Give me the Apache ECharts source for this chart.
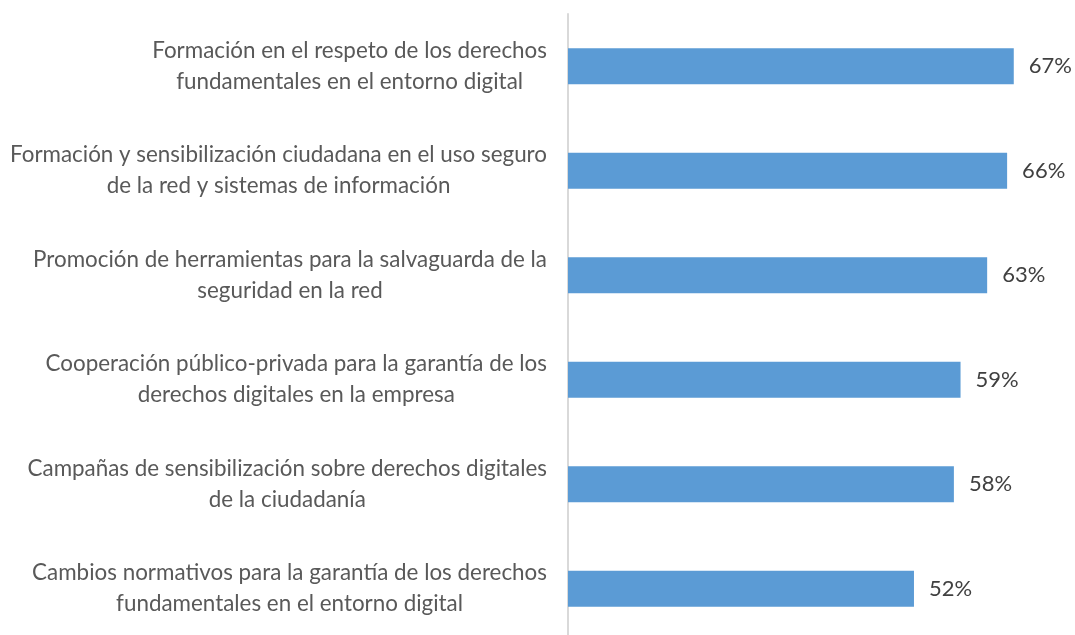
<!DOCTYPE html>
<html>
<head>
<meta charset="utf-8">
<script src="https://cdn.jsdelivr.net/npm/echarts@6/dist/echarts.min.js"></script>
<style>
	html, body { margin: 0; padding: 0; background: #ffffff; }
	#chart { width: 1075px; height: 635px; }
</style>
</head>
<body>
<div id="chart"></div>
<script>
	// categorias (dos lineas por etiqueta, como en el original)
	var categories = [
		["Formación en el respeto de los derechos", "fundamentales en el entorno digital"],
		["Formación y sensibilización ciudadana en el uso seguro", "de la red y sistemas de información"],
		["Promoción de herramientas para la salvaguarda de la", "seguridad en la red"],
		["Cooperación público-privada para la garantía de los", "derechos digitales en la empresa"],
		["Campañas de sensibilización sobre derechos digitales", "de la ciudadanía"],
		["Cambios normativos para la garantía de los derechos", "fundamentales en el entorno digital"]
	];
	var values = [67, 66, 63, 59, 58, 52];

	var chart = echarts.init(document.getElementById("chart"));

	var labelNames = categories.map(function(c){ return c.join("\n"); });

	chart.setOption({
		animation: false,
		grid: { left: 568, right: 8, top: 14, height: 627, outerBoundsMode: "none" },
		xAxis: {
			type: "value",
			min: 0,
			max: 75,
			show: false
		},
		yAxis: {
			type: "category",
			inverse: true,
			data: labelNames,
			axisLine: { show: true, lineStyle: { color: "#d9d9d9", width: 2 } },
			axisTick: { show: false },
			axisLabel: {
				margin: 21,
				lineHeight: 31,
				formatter: function(v){
					var parts = v.split("\n");
					return "{a|" + parts[0] + "}\n{b|" + parts[1] + "}";
				},
				rich: {
					a: { fontFamily: "Lato", fontSize: 22.4, color: "#595959", lineHeight: 31, align: "right" },
					b: { fontFamily: "Lato", fontSize: 22.4, color: "#595959", lineHeight: 31, align: "center" }
				}
			}
		},
		series: [{
			type: "bar",
			data: values,
			barWidth: 36,
			itemStyle: { color: "#5b9bd5" },
			label: {
				show: true,
				position: "right",
				distance: 15,
				formatter: "{c}%",
				fontFamily: "Lato",
				fontSize: 22,
				color: "#404040"
			}
		}]
	});
</script>
</body>
</html>
